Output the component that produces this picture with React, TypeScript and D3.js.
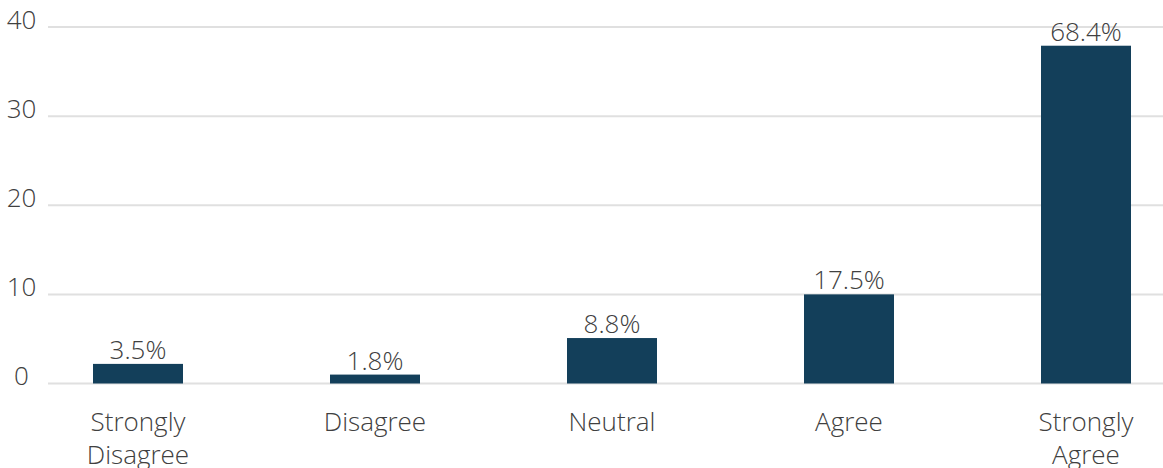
import React from "react";
import * as d3 from "d3";

const categories = [["Strongly", "Disagree"], ["Disagree"], ["Neutral"], ["Agree"], ["Strongly", "Agree"]];
const values = [2.2, 1, 5.1, 10, 37.9];
const valueLabels = ["3.5%", "1.8%", "8.8%", "17.5%", "68.4%"];
const yTicks = [0, 10, 20, 30, 40];

const W = 1163;
const H = 468;
const FONT = "'Open Sans', 'Segoe UI', sans-serif";
const TEXT = "#404040";

export default function App() {
  const y = d3.scaleLinear().domain([0, 40]).range([383.5, 27]);
  const x = d3
    .scalePoint<number>()
    .domain(categories.map((_, i) => i))
    .range([138, 1086]);
  const barW = 90;
  return (
    <svg width={W} height={H} style={{ position: "absolute", left: 0, top: 0 }}>
      <rect width={W} height={H} fill="#ffffff" />
      {yTicks.map((t) => (
        <g key={t}>
          <line x1={48} x2={W} y1={y(t)} y2={y(t)} stroke="#e0e0e0" strokeWidth={2} />
          <text
            x={21.5}
            y={y(t) + 1.5}
            textAnchor="middle"
            fontFamily={FONT}
            fontWeight={300}
            fontSize={26}
            fill={TEXT}
          >
            {t}
          </text>
        </g>
      ))}
      {values.map((v, i) => (
        <g key={i}>
          <rect x={(x(i) as number) - barW / 2} y={y(v)} width={barW} height={y(0) - y(v)} fill="#133f5a" />
          <text
            x={x(i)}
            y={y(v) - 5}
            textAnchor="middle"
            fontFamily={FONT}
            fontWeight={300}
            fontSize={26}
            fill={TEXT}
          >
            {valueLabels[i]}
          </text>
          <text textAnchor="middle" fontFamily={FONT} fontWeight={300} fontSize={26} fill={TEXT}>
            {categories[i].map((line, j) => (
              <tspan key={j} x={x(i)} y={431 + j * 33}>
                {line}
              </tspan>
            ))}
          </text>
        </g>
      ))}
    </svg>
  );
}
